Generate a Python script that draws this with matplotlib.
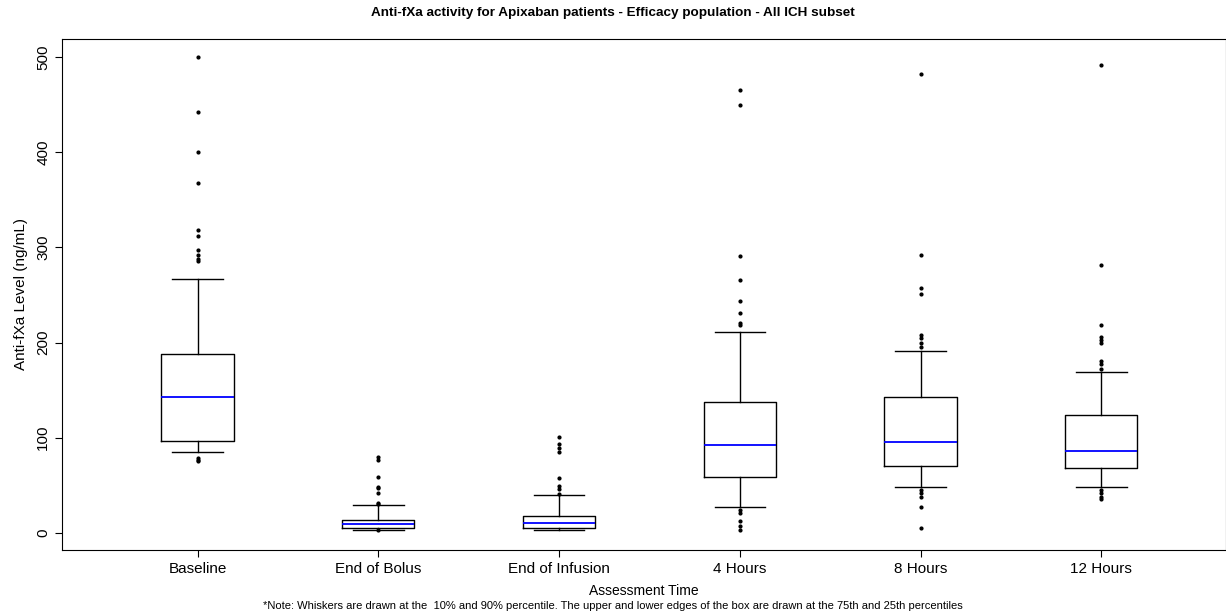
import matplotlib
matplotlib.use("Agg")
import matplotlib.pyplot as plt

plt.rcParams['font.family'] = ['Liberation Sans', 'DejaVu Sans']

# time points
labels = ['Baseline', 'End of Bolus', 'End of Infusion', '4 Hours', '8 Hours', '12 Hours']

# box statistics (10th/25th/50th/75th/90th percentiles)
p10 = [85, 3, 3, 27, 48, 48]
q1 = [97, 5, 5, 59, 70, 68]
med = [143, 9.5, 10, 92, 95, 86]
q3 = [188, 13.5, 18, 138, 143, 124]
p90 = [267, 29, 40, 211, 191, 169]

# points beyond the whiskers
outliers = [
    [500, 442, 400, 368, 318, 312, 297, 292, 288, 286, 79, 77, 75],
    [80, 77, 59, 48, 47, 42, 31, 30, 3],
    [101, 93, 89, 85, 58, 49, 46, 41],
    [465, 450, 291, 266, 244, 231, 221, 218, 24, 21, 12, 7, 3],
    [482, 292, 257, 251, 208, 205, 200, 195, 45, 42, 38, 27, 5],
    [492, 281, 218, 206, 203, 199, 181, 177, 172, 45, 42, 38, 36],
]

stats = []
for i in range(len(labels)):
    stats.append({'med': med[i], 'q1': q1[i], 'q3': q3[i],
                  'whislo': p10[i], 'whishi': p90[i],
                  'fliers': outliers[i], 'label': labels[i]})

fig = plt.figure(figsize=(12.26, 6.15), dpi=100)
ax = fig.add_axes([0.0506, 0.1057, 0.9494, 0.8309])

ax.bxp(stats, widths=0.40, showfliers=True,
       boxprops=dict(color='black', linewidth=1.0),
       whiskerprops=dict(color='black', linewidth=1.0),
       capprops=dict(color='black', linewidth=1.0),
       capwidths=0.28,
       medianprops=dict(color='#0000ff', linewidth=1.3),
       flierprops=dict(marker='o', markersize=2.0, markerfacecolor='black',
                       markeredgecolor='black'))

ax.set_xlim(0.25, 6.69)
ax.set_ylim(-18, 519)
ax.set_yticks([0, 100, 200, 300, 400, 500])
ax.tick_params(axis='both', direction='out', length=5, width=0.8, labelsize=11)
for t in ax.get_yticklabels():
    t.set_rotation(90)
    t.set_va('center')

ax.set_ylabel('Anti-fXa Level (ng/mL)', fontsize=11, labelpad=6)
ax.set_xlabel('Assessment Time', fontsize=10, labelpad=6)

fig.text(0.5, 1 - 13 / 615,
         'Anti-fXa activity for Apixaban patients - Efficacy population - All ICH subset',
         ha='center', va='center', fontsize=9.7, fontweight='bold')

fig.text(0.5, 1 - 606 / 615,
         '*Note: Whiskers are drawn at the  10% and 90% percentile. The upper and lower edges of the box are drawn at the 75th and 25th percentiles',
         ha='center', va='center', fontsize=8)

fig.savefig('out.png', dpi=100)
